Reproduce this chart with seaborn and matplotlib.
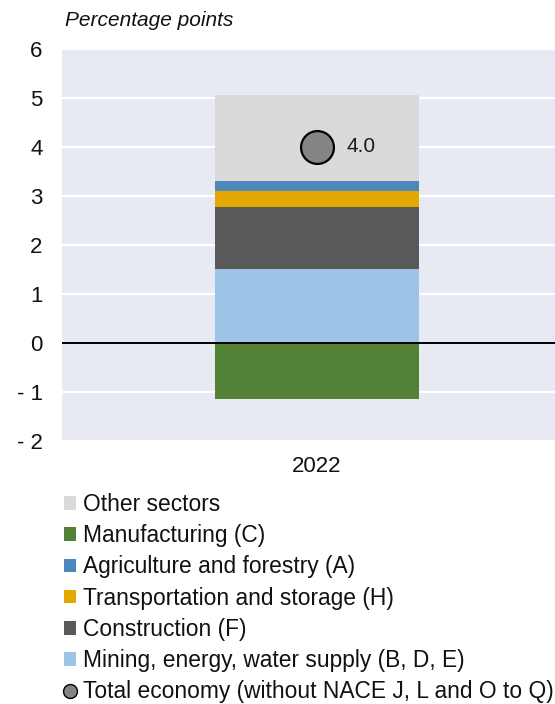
import matplotlib
matplotlib.use("Agg")
import matplotlib.pyplot as plt
from matplotlib.patches import Patch
from matplotlib.lines import Line2D
import seaborn as sns
import pandas as pd
import numpy as np

# Contributions to growth, 2022 (percentage points)
year = ["2022"]
mining = [1.52]
construction = [1.25]
transport = [0.34]
agriculture = [0.19]
other = [1.77]
manufacturing = [-1.14]
total = [4.0]

sectors = ["Mining, energy, water supply (B, D, E)", "Construction (F)",
           "Transportation and storage (H)", "Agriculture and forestry (A)",
           "Other sectors"]
values = [mining, construction, transport, agriculture, other]
colors = {"Other sectors": "#dadada",
          "Manufacturing (C)": "#538135",
          "Agriculture and forestry (A)": "#4d88bd",
          "Transportation and storage (H)": "#e2a900",
          "Construction (F)": "#595959",
          "Mining, energy, water supply (B, D, E)": "#9dc3e6"}

sns.set_theme(style="darkgrid")
plt.rcParams["font.family"] = ["Liberation Sans", "DejaVu Sans"]

fig = plt.figure(figsize=(5.55, 7.04), dpi=100)
fig.patch.set_facecolor("white")
W, H = 555, 704
ax = fig.add_axes([62 / W, (H - 441) / H, 510 / W, (441 - 49) / H])
ax.set_facecolor("#e7eaf2")

# stacked positive contributions: draw cumulative tops from highest to lowest
cum = np.cumsum([v[0] for v in values])
for name, top in reversed(list(zip(sectors, cum))):
    df = pd.DataFrame({"year": year, "value": [top]})
    sns.barplot(data=df, x="year", y="value", color=colors[name], width=0.4,
                saturation=1, edgecolor="none", linewidth=0, ax=ax, zorder=2)
df = pd.DataFrame({"year": year, "value": manufacturing})
sns.barplot(data=df, x="year", y="value", color=colors["Manufacturing (C)"],
            width=0.4, saturation=1, edgecolor="none", linewidth=0, ax=ax,
            zorder=2)

tdf = pd.DataFrame({"year": year, "value": total})
sns.scatterplot(data=tdf, x="year", y="value", s=560, color="#858585",
                edgecolor="black", linewidth=1.6, ax=ax, zorder=4, legend=False)
ax.annotate(f"{total[0]:.1f}", (0, total[0]), xytext=(21, 0),
            textcoords="offset points", va="center", ha="left", fontsize=15,
            color="#1a1a1a", zorder=5)

ax.axhline(0, color="black", lw=1.4, zorder=3)
ax.set_xlim(-0.5, 0.5)
ax.set_ylim(-2, 6)
ax.set_yticks(range(-2, 7))
ax.set_yticklabels([f"- {abs(t)}" if t < 0 else str(t) for t in range(-2, 7)])
ax.grid(axis="y", color="white", lw=1.6)
ax.grid(axis="x", visible=False)
ax.set_xlabel("")
ax.set_ylabel("")
ax.tick_params(axis="y", labelsize=16, pad=14, length=0, labelcolor="#111111")
ax.tick_params(axis="x", labelsize=16, pad=11, length=0, labelcolor="#111111")
for lbl in ax.get_yticklabels():
    lbl.set_horizontalalignment("right")
for s in ax.spines.values():
    s.set_visible(False)

fig.text(65 / W, (H - 21) / H, "Percentage points", style="italic",
         fontsize=15, va="center", ha="left", color="#111111")

order = ["Other sectors", "Manufacturing (C)", "Agriculture and forestry (A)",
         "Transportation and storage (H)", "Construction (F)",
         "Mining, energy, water supply (B, D, E)"]
handles = [Patch(facecolor=colors[n], edgecolor="none") for n in order]
handles.append(Line2D([], [], marker="o", ls="none", markersize=10,
                      markerfacecolor="#858585", markeredgecolor="black",
                      markeredgewidth=1.0))
labels = order + ["Total economy (without NACE J, L and O to Q)"]
leg = fig.legend(handles, labels, loc="upper left",
                 bbox_to_anchor=(64 / W, (H - 493) / H), frameon=False,
                 fontsize=16.4, handlelength=0.54, handleheight=0.54,
                 handletextpad=0.3, labelspacing=0.36, borderpad=0,
                 borderaxespad=0)
for t in leg.get_texts():
    t.set_color("#111111")

fig.savefig("out.png", dpi=100)
